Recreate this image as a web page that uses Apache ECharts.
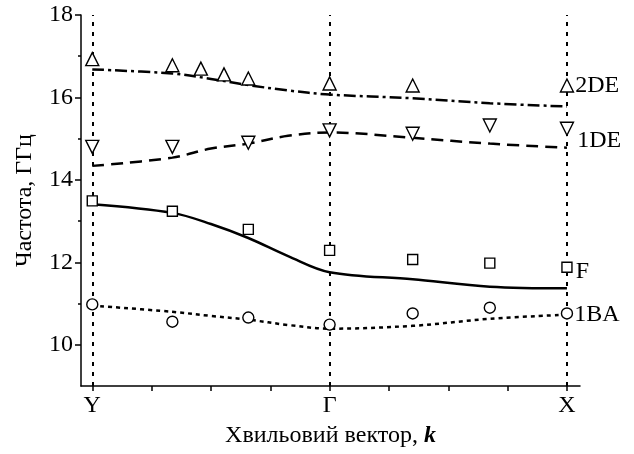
<!DOCTYPE html>
<html>
<head>
<meta charset="utf-8">
<script src="https://cdn.jsdelivr.net/npm/echarts@6/dist/echarts.min.js"></script>
<style>
html, body { margin: 0; background: #fff; }
#chart { width: 634px; height: 454px; }
</style>
</head>
<body>
<div id="chart"></div>
<script>
// high-symmetry points on the k axis
const kPoints = [0, 4, 8]
const kLabels = ['Y', 'Γ', 'X']
const kTicks = [0, 1, 2, 3, 4, 5, 6, 7, 8]
const yMajor = [10, 12, 14, 16, 18]
const yMinor = [11, 13, 15, 17]

// measured points (markers)
const de2X = [0, 1.35, 1.83, 2.22, 2.63, 4, 5.4, 8]
const de2Y = [16.93, 16.78, 16.7, 16.56, 16.46, 16.34, 16.29, 16.29]
const ptX = [0, 1.35, 2.63, 4, 5.4, 6.7, 8]
const de1Y = [14.8, 14.8, 14.9, 15.2, 15.12, 15.32, 15.24]
const fY = [13.49, 13.24, 12.8, 12.29, 12.07, 11.98, 11.88]
const ba1Y = [10.98, 10.56, 10.66, 10.49, 10.76, 10.9, 10.76]

// calculated curves
const curveX = [0, 1.35, 2, 2.63, 3.3, 4, 5.4, 6.7, 8]
const de2Curve = [16.68, 16.58, 16.45, 16.3, 16.17, 16.07, 15.98, 15.86, 15.78]
const de1Curve = [14.34, 14.54, 14.76, 14.88, 15.07, 15.15, 15.02, 14.88, 14.78]
const fCurve = [13.41, 13.2, 12.93, 12.59, 12.15, 11.76, 11.59, 11.41, 11.37]
const ba1Curve = [10.95, 10.8, 10.7, 10.61, 10.48, 10.39, 10.46, 10.63, 10.73]

const font = 'Liberation Serif'
const fs = 24
const zip = (xs, ys) => xs.map((x, i) => [x, ys[i]])

function curve(ys, type) {
  return {
    type: 'line',
    data: zip(curveX, ys),
    smooth: 0.35,
    showSymbol: false,
    silent: true,
    lineStyle: { color: '#000', width: 2.5, type: type }
  }
}

function points(xs, ys, symbol, size, name, offset, rotate) {
  const data = zip(xs, ys).map((p, i) => {
    if (i < xs.length - 1) return p
    return {
      value: p,
      label: {
        show: true, position: 'right', distance: 3, formatter: name, offset: offset,
        color: '#000', fontFamily: font, fontSize: fs
      }
    }
  })
  return {
    type: 'scatter',
    data: data,
    symbol: symbol,
    symbolSize: size,
    symbolRotate: rotate || 0,
    itemStyle: { color: '#fff', borderColor: '#000', borderWidth: 1.4, opacity: 1 },
    z: 5
  }
}

const chart = echarts.init(document.getElementById('chart'))
chart.setOption({
  animation: false,
  backgroundColor: '#fff',
  grid: { left: 81, right: 54, top: 15, bottom: 68 },
  xAxis: {
    type: 'value',
    min: -0.19,
    max: 8.22,
    splitLine: { show: false },
    axisLine: { onZero: false, lineStyle: { color: '#000', width: 1.5 } },
    axisTick: { customValues: kTicks, length: 5, lineStyle: { color: '#000', width: 1.5 } },
    axisLabel: {
      customValues: kPoints,
      formatter: v => kLabels[kPoints.indexOf(v)],
      color: '#000', fontFamily: font, fontSize: fs, margin: 8
    },
    name: 'Хвильовий вектор, {k|k}',
    nameLocation: 'middle',
    nameGap: 38,
    nameTextStyle: {
      color: '#000', fontFamily: font, fontSize: fs,
      rich: { k: { fontFamily: font, fontSize: fs, fontWeight: 'bold', fontStyle: 'italic', color: '#000' } }
    }
  },
  yAxis: [
    {
      type: 'value',
      min: 9,
      max: 18,
      splitLine: { show: false },
      axisLine: { show: true, onZero: false, lineStyle: { color: '#000', width: 1.5 } },
      axisTick: { customValues: yMajor, length: 6, lineStyle: { color: '#000', width: 1.5 } },
      axisLabel: { customValues: yMajor, color: '#000', fontFamily: font, fontSize: fs, margin: 8 },
      name: 'Частота, ГГц',
      nameLocation: 'middle',
      nameGap: 44,
      nameTextStyle: { color: '#000', fontFamily: font, fontSize: fs }
    },
    {
      type: 'value',
      min: 9,
      max: 18,
      position: 'left',
      splitLine: { show: false },
      axisLine: { show: false, onZero: false },
      axisTick: { customValues: yMinor, length: 3, lineStyle: { color: '#000', width: 1.5 } },
      axisLabel: { show: false }
    }
  ],
  series: [
    {
      type: 'line',
      data: [],
      markLine: {
        silent: true,
        symbol: 'none',
        label: { show: false },
        lineStyle: { color: '#000', width: 2, type: [4, 6] },
        data: kPoints.map(k => ({ xAxis: k }))
      }
    },
    curve(de2Curve, [12, 4, 3, 4]),
    curve(de1Curve, [12, 7]),
    curve(fCurve, 'solid'),
    curve(ba1Curve, [4, 4]),
    points(de2X, de2Y, 'triangle', 13, '2DE', [-2, 0]),
    points(ptX, de1Y, 'triangle', 13, '1DE', [0, 12], 180),
    points(ptX, fY, 'rect', 10, 'F', [0, 4]),
    points(ptX, ba1Y, 'circle', 11, '1BA', [-2, 1])
  ]
})
</script>
</body>
</html>
